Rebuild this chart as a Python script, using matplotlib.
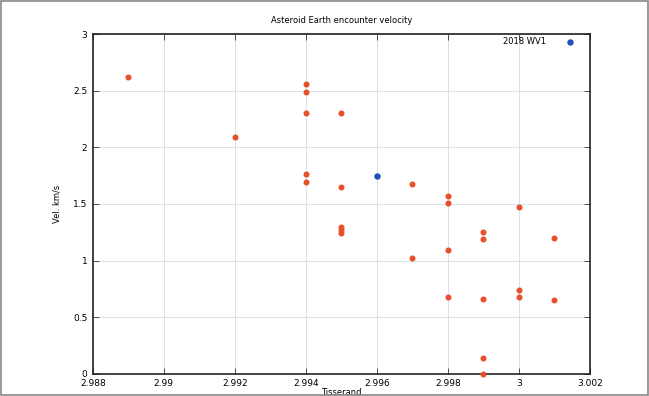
import numpy as np
import matplotlib.pyplot as plt
from matplotlib.patches import Rectangle

# asteroid encounters (Tisserand vs velocity)
tiss = [2.989, 2.992, 2.994, 2.994, 2.994, 2.994, 2.994,
        2.995, 2.995, 2.995, 2.995, 2.995,
        2.997, 2.997, 2.998, 2.998, 2.998, 2.998,
        2.999, 2.999, 2.999, 2.999, 2.999,
        3.000, 3.000, 3.000, 3.001, 3.001]
vel = [2.62, 2.09, 2.56, 2.49, 2.30, 1.76, 1.69,
       2.30, 1.65, 1.30, 1.27, 1.24,
       1.68, 1.02, 1.57, 1.51, 1.09, 0.68,
       1.25, 1.19, 0.66, 0.14, 0.0,
       1.47, 0.74, 0.68, 1.20, 0.65]

# 2018 WV1
wv1_t = [2.996]
wv1_v = [1.75]

xticks = [2.988, 2.990, 2.992, 2.994, 2.996, 2.998, 3.000, 3.002]
xlabels = ['2.988', '2.99', '2.992', '2.994', '2.996', '2.998', '3', '3.002']
yticks = [0, 0.5, 1, 1.5, 2, 2.5, 3]
ylabels = ['0', '0.5', '1', '1.5', '2', '2.5', '3']

fig = plt.figure(figsize=(6.49, 3.96), dpi=100)
ax = fig.add_axes([0.143, 0.056, 0.766, 0.858])

ax.scatter(tiss, vel, s=11, color='#e8502c', zorder=3, clip_on=False)
ax.scatter(wv1_t, wv1_v, s=13, color='#1f4fb8', zorder=3, label='2018 WV1')

ax.set_xlim(2.988, 3.002)
ax.set_ylim(0, 3)
ax.set_xticks(xticks)
ax.set_xticklabels(xlabels)
ax.set_yticks(yticks)
ax.set_yticklabels(ylabels)
ax.tick_params(direction='in', top=True, right=True, labelsize=6.5, length=4, width=0.6,
               color='#333333', pad=4)
ax.grid(True, color='#d6e2ea', linewidth=0.7)
ax.set_axisbelow(True)
for sp in ax.spines.values():
    sp.set_linewidth(1.2)
    sp.set_color('#222222')

ax.set_title('Asteroid Earth encounter velocity', fontsize=6, pad=8)
ax.set_xlabel('Tisserand', fontsize=6, labelpad=0)
ax.set_ylabel('Vel. km/s', fontsize=6, labelpad=8)

ax.legend(loc='upper right', bbox_to_anchor=(0.98, 1.0), frameon=False, fontsize=6,
          markerfirst=False, handletextpad=2.2, borderaxespad=0, borderpad=0.4,
          handlelength=1.5)

# figure border
fig.patches.append(Rectangle((0.002, 0.003), 0.996, 0.994, transform=fig.transFigure,
                             fill=False, edgecolor='#888888', linewidth=1.2))

fig.savefig('out.png', dpi=100)
